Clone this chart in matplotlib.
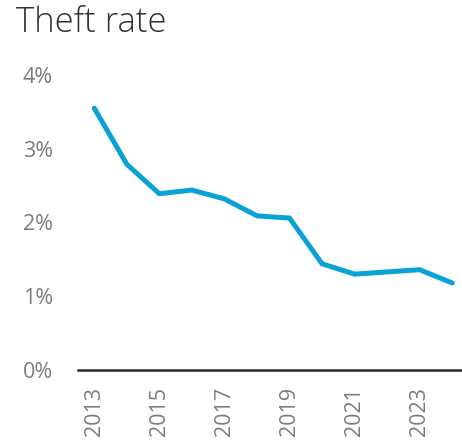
import matplotlib
matplotlib.use("Agg")
import matplotlib.pyplot as plt
from matplotlib.ticker import FuncFormatter

# Theft rate by year (%)
years = [2013, 2014, 2015, 2016, 2017, 2018, 2019, 2020, 2021, 2022, 2023, 2024]
theft_rate = [3.55, 2.79, 2.39, 2.44, 2.32, 2.09, 2.06, 1.44, 1.30, 1.33, 1.36, 1.18]
x_ticks = [2013, 2015, 2017, 2019, 2021, 2023]
y_ticks = [0, 1, 2, 3, 4]

W, H = 462, 446
fig = plt.figure(figsize=(W / 100, H / 100), dpi=100)
ax = fig.add_axes([78 / W, (H - 370) / H, 1 - 78 / W, (370 - 75) / H])

ax.plot(years, theft_rate, color="#0AA1D6", lw=3.6,
        solid_capstyle="round", solid_joinstyle="miter", clip_on=False)

ax.set_xlim(2012.5, 2024.3)
ax.set_ylim(0, 4)
ax.set_xticks(x_ticks)
ax.set_yticks(y_ticks)
ax.yaxis.set_major_formatter(FuncFormatter(lambda v, p: f"{v:.0f}%"))

for s in ["top", "right", "left"]:
    ax.spines[s].set_visible(False)
ax.spines["bottom"].set_color("#2b2b2b")
ax.spines["bottom"].set_linewidth(1.8)

ax.tick_params(axis="both", length=0, labelsize=15.5, labelcolor="#7a7d80")
ax.tick_params(axis="y", pad=18)
ax.tick_params(axis="x", pad=12, labelrotation=90)
for lab in ax.get_xticklabels() + ax.get_yticklabels():
    lab.set_fontfamily("Open Sans")

fig.text(16 / W, 1 - 32 / H, "Theft rate", fontsize=25, color="#333333",
         fontfamily="Open Sans", fontweight="light", va="baseline", ha="left")

fig.savefig("out.png", dpi=100)
